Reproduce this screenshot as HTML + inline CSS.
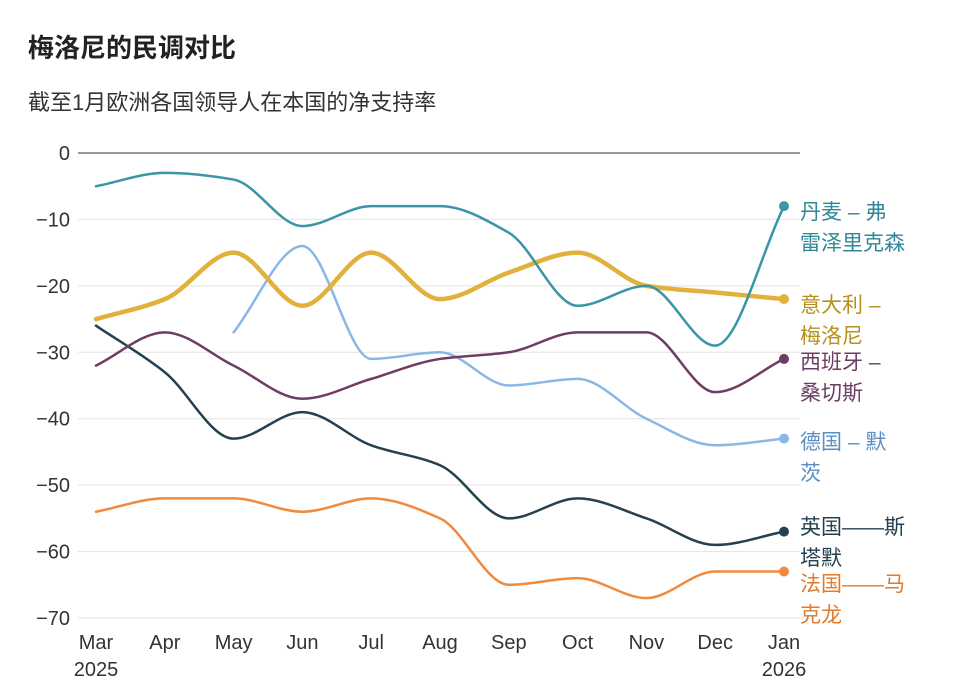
<!DOCTYPE html>
<html><head><meta charset="utf-8">
<style>
html,body{margin:0;padding:0;background:#fff;width:960px;height:697px;overflow:hidden}
svg text{font-family:"Liberation Sans","Noto Sans CJK SC",sans-serif}
</style></head>
<body>
<svg id="chart" width="960" height="697">
<text x="28" y="57" font-size="26" font-weight="bold" fill="#222">梅洛尼的民调对比</text>
<text x="28" y="110" font-size="22" fill="#333">截至1月欧洲各国领导人在本国的净支持率</text>
<g id="grid"></g><g id="series"></g><g id="labels"></g>
</svg>
<script>
const months=["Mar","Apr","May","Jun","Jul","Aug","Sep","Oct","Nov","Dec","Jan"];
const yTicks=[0,-10,-20,-30,-40,-50,-60,-70];
const denmark=[-5,-3,-4,-11,-8,-8,-12,-23,-20,-29,-8];
const italy=[-25,-22,-15,-23,-15,-22,-18,-15,-20,-21,-22];
const spain=[-32,-27,-32,-37,-34,-31,-30,-27,-27,-36,-31];
const germany=[null,null,-27,-14,-31,-30,-35,-34,-40,-44,-43];
const uk=[-26,-33,-43,-39,-44,-47,-55,-52,-55,-59,-57];
const france=[-54,-52,-52,-54,-52,-55,-65,-64,-67,-63,-63];
const NS="http://www.w3.org/2000/svg";
const x=i=>96+i*68.8, y=v=>153+(-v)*6.643;
function mk(t,a,p){const e=document.createElementNS(NS,t);for(const k in a)e.setAttribute(k,a[k]);p.appendChild(e);return e;}
const grid=document.getElementById('grid');
yTicks.forEach(t=>{
 const l=mk('line',{x1:78,x2:800,y1:y(t),y2:y(t),stroke:t===0?'#333':'#e3e3e3','stroke-width':1},grid);
 
 
 const tx=mk('text',{x:70,y:y(t)+7,'text-anchor':'end','font-size':20,fill:'#333'},grid);
 tx.textContent=t===0?'0':'−'+(-t);
 
 
});
months.forEach((m,i)=>{
 const tx=mk('text',{x:x(i),y:649,'text-anchor':'middle','font-size':20,fill:'#333'},grid);
 tx.textContent=m;
 
 
});
[[0,'2025'],[10,'2026']].forEach(([i,s])=>{
 const tx=mk('text',{x:x(i),y:676,'text-anchor':'middle','font-size':20,fill:'#333'},grid);
 tx.textContent=s;
 
 
});
function monotone(pts){
 const n=pts.length;if(n<2)return '';
 const dx=[],s=[];for(let i=0;i<n-1;i++){dx.push(pts[i+1][0]-pts[i][0]);s.push((pts[i+1][1]-pts[i][1])/dx[i]);}
 const m=[s[0]];for(let i=1;i<n-1;i++){m.push(s[i-1]*s[i]<=0?0:(3*(dx[i-1]+dx[i]))/((2*dx[i]+dx[i-1])/s[i-1]+(dx[i]+2*dx[i-1])/s[i]));}
 m.push(s[n-2]);
 let d='M'+pts[0][0]+','+pts[0][1];
 for(let i=0;i<n-1;i++){const h=dx[i]/3;d+=' C'+(pts[i][0]+h)+','+(pts[i][1]+m[i]*h)+' '+(pts[i+1][0]-h)+','+(pts[i+1][1]-m[i+1]*h)+' '+pts[i+1][0]+','+pts[i+1][1];}
 return d;
}
const ser=document.getElementById('series'), lab=document.getElementById('labels');
const defs=[
 ['france',france,'#f08a3c',2.5,['法国——马','克龙'],'#e07a2c'],
 ['uk',uk,'#25404f',2.5,['英国——斯','塔默'],'#25404f'],
 ['germany',germany,'#8ab8e6',2.5,['德国 – 默','茨'],'#5b8fc4'],
 ['spain',spain,'#6e3d63',2.5,['西班牙 –','桑切斯'],'#6e3d63'],
 ['italy',italy,'#e2b13c',4.5,['意大利 –','梅洛尼'],'#b8901c'],
 ['denmark',denmark,'#3a95a6',2.5,['丹麦 – 弗','雷泽里克森'],'#2f8898']
];
defs.forEach(([nm,data,c,w,lbl,lc])=>{
 const pts=[];data.forEach((v,i)=>{if(v!==null)pts.push([x(i),y(v)]);});
 const p=mk('path',{d:monotone(pts),fill:'none',stroke:c,'stroke-width':w,'stroke-linecap':'round'},ser);
 
 
 const last=pts[pts.length-1];
 const dot=mk('circle',{cx:last[0],cy:last[1],r:5,fill:c},ser);
 
 
 const ly={france:584,uk:527,germany:442,spain:362,italy:305,denmark:212}[nm];
 lbl.forEach((s,k)=>{
  const t=mk('text',{x:800,y:ly+7+k*31,'font-size':21,fill:lc},lab);
  t.textContent=s;
  
  
 });
});
</script>
</body></html>
